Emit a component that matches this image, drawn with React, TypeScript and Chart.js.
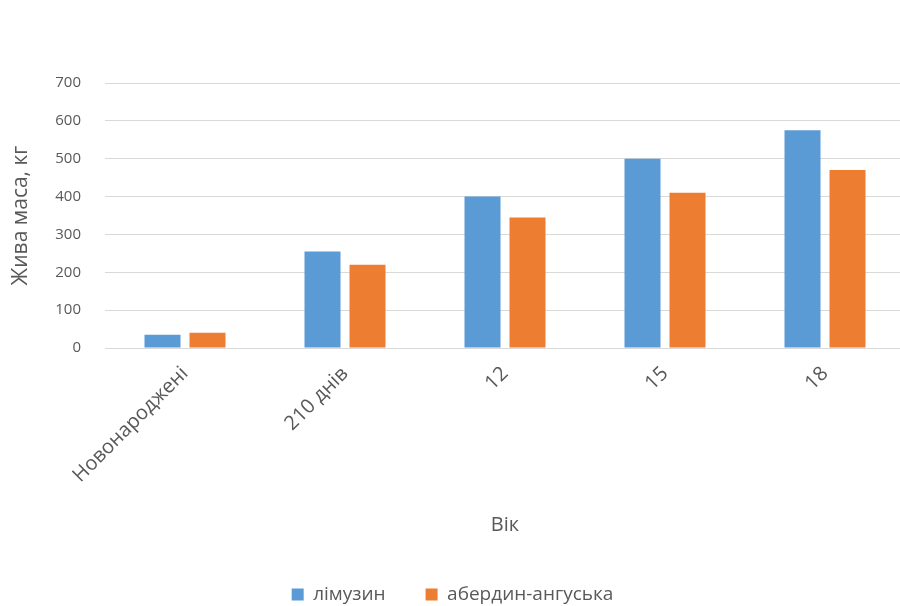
import React, { useEffect, useRef } from "react";
import { Chart, registerables } from "chart.js";

Chart.register(...registerables);

const categories = ["Новонароджені", "210 днів", "12", "15", "18"];
const limousin = [35, 255, 400, 500, 575];
const aberdeen = [40, 220, 345, 410, 470];
const seriesNames = ["лімузин", "абердин-ангуська"];
const yTitle = "Жива маса, кг";
const xTitle = "Вік";

const FONT = "'Open Sans', 'Noto Sans', sans-serif";

export default function App() {
  const ref = useRef<HTMLCanvasElement | null>(null);
  useEffect(() => {
    document.body.style.margin = "0";
    document.body.style.overflow = "hidden";
    const ctx = ref.current!;
    const chart = new Chart(ctx, {
      type: "bar",
      data: {
        labels: categories,
        datasets: [
          { label: seriesNames[0], data: limousin, backgroundColor: "#5B9BD5" },
          { label: seriesNames[1], data: aberdeen, backgroundColor: "#ED7D31" },
        ],
      },
      options: {
        animation: false,
        responsive: false,
        maintainAspectRatio: false,
        layout: { padding: { top: 83, right: 0, left: 0, bottom: 0 } },
        datasets: { bar: { categoryPercentage: 0.5625, barPercentage: 0.8 } } as any,
        plugins: {
          legend: {
            position: "bottom",
            labels: {
              boxWidth: 12,
              boxHeight: 12,
              padding: 40,
              color: "#595959",
              font: { family: FONT, size: 19 },
            },
          },
          tooltip: { enabled: false },
        },
        scales: {
          x: {
            grid: { display: false, drawTicks: false },
            border: { color: "#d9d9d9" },
            ticks: {
              minRotation: 45,
              maxRotation: 45,
              autoSkip: false,
              color: "#595959",
              padding: 14,
              font: { family: FONT, size: 20 },
            },
            title: {
              display: true,
              text: xTitle,
              color: "#595959",
              font: { family: FONT, size: 20 },
              padding: { top: 10, bottom: 8 },
            },
            afterFit: (s: any) => {
              s.height = 197;
            },
          },
          y: {
            min: 0,
            max: 700,
            ticks: {
              stepSize: 100,
              color: "#595959",
              padding: 24,
              font: { family: FONT, size: 15 },
            },
            grid: { color: "#d9d9d9", drawTicks: false },
            border: { display: false },
            title: {
              display: true,
              text: yTitle,
              color: "#595959",
              font: { family: FONT, size: 21 },
              padding: { top: 8, bottom: 0 },
            },
            afterFit: (s: any) => {
              s.width = 105;
            },
          },
        },
      },
    });
    return () => chart.destroy();
  }, []);
  return (
    <div style={{ width: 900, height: 606, overflow: "hidden", background: "#fff" }}>
      <canvas ref={ref} width={905} height={614} style={{ display: "block" }} />
    </div>
  );
}
